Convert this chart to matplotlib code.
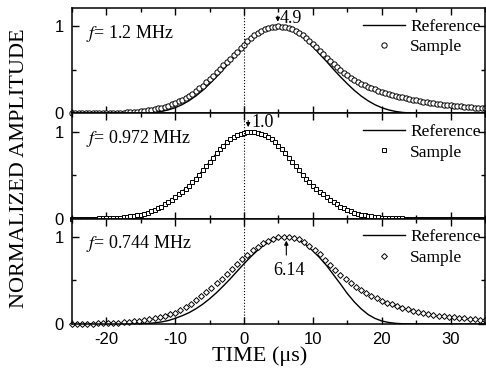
import numpy as np
import matplotlib.pyplot as plt
from matplotlib.ticker import MultipleLocator

plt.rcParams['font.family'] = ['Liberation Serif', 'DejaVu Serif']
plt.rcParams['mathtext.fontset'] = 'stix'
plt.rcParams['axes.unicode_minus'] = False

# eje de tiempo (us)
t_ref = np.arange(-25, 36, 1.0)
t_m1 = np.arange(-25, 35.01, 0.5)
t_m2 = np.arange(-25, 35.01, 0.5)
t_m3 = np.arange(-25, 35.01, 0.75)

# f = 1.2 MHz
ref1 = [0, 0, 0, 0, 0, 0, 0, 0, 0, 0,
        0.002, 0.005, 0.011, 0.022, 0.040, 0.065, 0.100, 0.145, 0.200, 0.265,
        0.340, 0.420, 0.505, 0.595, 0.680, 0.765, 0.845, 0.910, 0.960, 0.990,
        1.000, 0.990, 0.960, 0.910, 0.845, 0.765, 0.680, 0.595, 0.505, 0.420,
        0.340, 0.265, 0.200, 0.145, 0.100, 0.065, 0.040, 0.022, 0.011, 0.005,
        0.002, 0, 0, 0, 0, 0, 0, 0, 0, 0, 0]
sam1 = [0.003, 0.003, 0.003, 0.003, 0.004, 0.004, 0.004, 0.004, 0.004, 0.005,
        0.005, 0.005, 0.006, 0.007, 0.008, 0.009, 0.011, 0.013, 0.016, 0.019,
        0.023, 0.028, 0.033, 0.040, 0.047, 0.056, 0.065, 0.077, 0.090, 0.105,
        0.120, 0.137, 0.155, 0.177, 0.200, 0.227, 0.255, 0.287, 0.320, 0.355,
        0.390, 0.430, 0.470, 0.510, 0.550, 0.590, 0.630, 0.670, 0.710, 0.750,
        0.790, 0.830, 0.865, 0.897, 0.925, 0.947, 0.965, 0.980, 0.990, 0.997,
        1.000, 0.997, 0.990, 0.981, 0.968, 0.950, 0.928, 0.902, 0.870, 0.835,
        0.798, 0.758, 0.718, 0.678, 0.638, 0.600, 0.563, 0.528, 0.495, 0.465,
        0.437, 0.410, 0.386, 0.364, 0.343, 0.324, 0.307, 0.291, 0.276, 0.262,
        0.249, 0.237, 0.225, 0.213, 0.202, 0.192, 0.183, 0.174, 0.166, 0.158,
        0.150, 0.143, 0.136, 0.130, 0.124, 0.118, 0.112, 0.106, 0.101, 0.096,
        0.092, 0.087, 0.083, 0.079, 0.075, 0.071, 0.068, 0.065, 0.062, 0.059,
        0.056]

# f = 0.972 MHz
ref2 = [0, 0, 0.001, 0.002, 0.003, 0.005, 0.008, 0.013, 0.021, 0.032,
        0.048, 0.070, 0.100, 0.140, 0.190, 0.250, 0.310, 0.380, 0.460, 0.555,
        0.650, 0.750, 0.840, 0.910, 0.960, 0.990, 1.000, 0.990, 0.960, 0.910,
        0.840, 0.750, 0.650, 0.555, 0.460, 0.380, 0.310, 0.250, 0.190, 0.140,
        0.100, 0.070, 0.048, 0.032, 0.021, 0.013, 0.008, 0.005, 0.003, 0.002,
        0.001, 0, 0, 0, 0, 0, 0, 0, 0, 0, 0]
sam2 = [0, 0, 0, 0.001, 0.001, 0.001, 0.002, 0.002, 0.003, 0.004,
        0.005, 0.006, 0.008, 0.010, 0.013, 0.017, 0.021, 0.026, 0.032, 0.040,
        0.048, 0.058, 0.070, 0.085, 0.100, 0.120, 0.140, 0.165, 0.190, 0.220,
        0.250, 0.280, 0.310, 0.345, 0.380, 0.420, 0.460, 0.507, 0.555, 0.602,
        0.650, 0.700, 0.750, 0.797, 0.840, 0.877, 0.910, 0.937, 0.960, 0.977,
        0.990, 0.997, 1.000, 0.997, 0.990, 0.977, 0.960, 0.937, 0.910, 0.877,
        0.840, 0.797, 0.750, 0.700, 0.650, 0.602, 0.555, 0.507, 0.460, 0.420,
        0.380, 0.345, 0.310, 0.280, 0.250, 0.220, 0.190, 0.165, 0.140, 0.120,
        0.100, 0.085, 0.070, 0.058, 0.048, 0.040, 0.032, 0.026, 0.021, 0.017,
        0.013, 0.010, 0.008, 0.006, 0.005, 0.004, 0.003, 0.002, 0.002, 0.001,
        0.001, 0.001, 0, 0, 0, 0, 0, 0, 0, 0,
        0, 0, 0, 0, 0, 0, 0, 0, 0, 0,
        0]

# f = 0.744 MHz
ref3 = [0, 0, 0, 0, 0, 0, 0, 0, 0, 0,
        0.002, 0.006, 0.013, 0.024, 0.040, 0.065, 0.095, 0.130, 0.175, 0.228,
        0.290, 0.360, 0.438, 0.520, 0.607, 0.693, 0.775, 0.849, 0.912, 0.960,
        0.990, 1.000, 0.990, 0.960, 0.910, 0.840, 0.760, 0.670, 0.565, 0.460,
        0.350, 0.255, 0.175, 0.110, 0.065, 0.035, 0.018, 0.008, 0.003, 0.001,
        0, 0, 0, 0, 0, 0, 0, 0, 0, 0, 0]
sam3 = [0.002, 0.003, 0.003, 0.004, 0.005, 0.006, 0.008, 0.010, 0.012, 0.015,
        0.019, 0.024, 0.030, 0.037, 0.046, 0.055, 0.067, 0.080, 0.095, 0.111,
        0.130, 0.160, 0.195, 0.233, 0.275, 0.320, 0.368, 0.418, 0.470, 0.522,
        0.575, 0.630, 0.685, 0.742, 0.795, 0.847, 0.890, 0.928, 0.958, 0.980,
        0.995, 1.000, 0.998, 0.990, 0.975, 0.942, 0.900, 0.852, 0.800, 0.740,
        0.680, 0.620, 0.565, 0.512, 0.467, 0.427, 0.390, 0.356, 0.325, 0.295,
        0.270, 0.247, 0.225, 0.204, 0.185, 0.168, 0.154, 0.141, 0.128, 0.117,
        0.106, 0.097, 0.089, 0.081, 0.075, 0.069, 0.064, 0.059, 0.055, 0.051,
        0.048]

etiquetas_f = [r'$f$= 1.2 MHz', r'$f$= 0.972 MHz', r'$f$= 0.744 MHz']
marcadores = ['o', 's', 'D']
tamanos = [3.8, 3.4, 3.0]

fig = plt.figure(figsize=(4.86, 3.83), dpi=100)
axes = fig.subplots(3, 1, sharex=True)
fig.subplots_adjust(left=0.148, right=0.998, top=0.979, bottom=0.154, hspace=0)

datos = [(t_m1, ref1, sam1), (t_m2, ref2, sam2), (t_m3, ref3, sam3)]
for i, ax in enumerate(axes):
    t_m, ref, sam = datos[i]
    ax.plot(t_ref, ref, color='k', lw=1.0, label='Reference')
    ax.plot(t_m, sam, ls='none', marker=marcadores[i], mfc='white', mec='k',
            ms=tamanos[i], mew=0.7, label='Sample', clip_on=False)
    ax.axvline(0, color='k', ls=':', lw=0.8)
    ax.set_xlim(-25, 35)
    ax.set_ylim(0, 1.21)
    ax.set_yticks([0, 1])
    ax.yaxis.set_minor_locator(MultipleLocator(0.5))
    ax.xaxis.set_major_locator(MultipleLocator(10))
    ax.xaxis.set_minor_locator(MultipleLocator(5))
    ax.tick_params(which='both', direction='in', top=True, right=True, width=1.0)
    ax.tick_params(which='major', length=5, pad=6)
    ax.tick_params(which='minor', length=3)
    for lab in ax.get_xticklabels() + ax.get_yticklabels():
        lab.set_fontfamily('Liberation Sans')
        lab.set_fontsize(12)
    for s in ax.spines.values():
        s.set_linewidth(1.1)
    ax.text(-22.9, 0.92, etiquetas_f[i], fontsize=13, va='center')
    ax.legend(loc='upper left', bbox_to_anchor=(0.705, 0.9), frameon=False,
              fontsize=12.5, handlelength=2.4, handletextpad=0.3,
              labelspacing=0.25, borderpad=0, borderaxespad=0)

axes[0].annotate('', xy=(4.9, 1.02), xytext=(4.9, 1.15),
                 arrowprops=dict(arrowstyle='-|>', color='k', lw=0.8, mutation_scale=6))
axes[0].text(5.2, 1.09, '4.9', fontsize=13, va='center')
axes[1].annotate('', xy=(0.6, 1.02), xytext=(0.6, 1.16),
                 arrowprops=dict(arrowstyle='-|>', color='k', lw=0.8, mutation_scale=6),
                 annotation_clip=False)
axes[1].text(1.0, 1.1, '1.0', fontsize=13, va='center', clip_on=False)
axes[2].annotate('', xy=(6.14, 0.99), xytext=(6.14, 0.76),
                 arrowprops=dict(arrowstyle='-|>', color='k', lw=0.8, mutation_scale=6))
axes[2].text(6.6, 0.62, '6.14', fontsize=13, ha='center', va='center')

fig.text(0.041, 0.562, 'NORMALIZED AMPLITUDE', rotation=90, fontsize=16,
         ha='center', va='center')
fig.text(0.535, 0.07, 'TIME (μs)', fontsize=16, ha='center', va='center')

plt.savefig('out.png', dpi=100)
